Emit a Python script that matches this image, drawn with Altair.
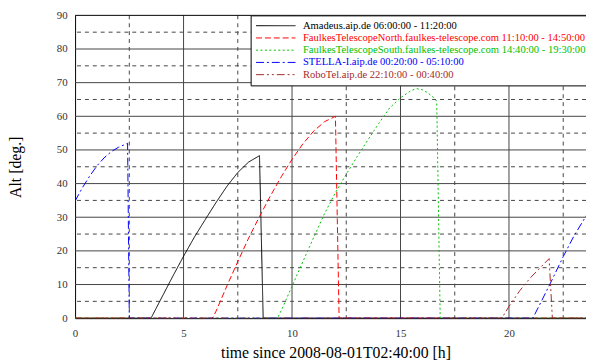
import altair as alt
import pandas as pd

# ---- series metadata ----
names = ["Amadeus.aip.de",
         "FaulkesTelescopeNorth.faulkes-telescope.com",
         "FaulkesTelescopeSouth.faulkes-telescope.com",
         "STELLA-I.aip.de",
         "RoboTel.aip.de"]
windows = ["06:00:00 - 11:20:00",
           "11:10:00 - 14:50:00",
           "14:40:00 - 19:30:00",
           "00:20:00 - 05:10:00",
           "22:10:00 - 00:40:00"]
colors = ["#000000", "#ff0000", "#00c000", "#0000ff", "#a52a2a"]
dashes = [[1, 0], [6, 3], [2, 2.5], [8, 3, 2, 3], [8, 3, 2, 3, 2, 3]]

# ---- data (hours since 2008-08-01T02:40:00, altitude in deg) ----
hours_amadeus = [0, 3.5, 4.0, 4.5, 5.0, 5.5, 6.0, 6.5, 7.0, 7.5, 8.0, 8.5, 8.67, 24]
alt_amadeus = [0, 0, 6.2, 12.4, 18.4, 24.1, 29.3, 34.4, 39.2, 43.3, 46.4, 48.3, 0, 0]

hours_north = [0, 6.33, 6.5, 7.0, 7.5, 8.0, 8.5, 9.0, 9.5, 10.0, 10.5, 11.0, 11.5, 12.0, 12.17, 24]
alt_north = [0, 0, 2.1, 9.6, 16.8, 23.8, 30.2, 36.3, 42.0, 47.2, 51.8, 55.6, 58.4, 60.0, 0, 0]

hours_south = [0, 9.33, 9.5, 10.0, 10.5, 11.0, 11.5, 12.0, 12.5, 13.0, 13.5, 14.0, 14.5,
               15.0, 15.5, 15.75, 16.0, 16.25, 16.5, 16.67, 16.83, 24]
alt_south = [0, 0, 2.2, 9.5, 16.8, 24.0, 31.1, 37.3, 42.8, 48.0, 53.0, 57.9, 62.5,
             65.5, 67.7, 68.2, 67.9, 67.0, 65.7, 64.5, 0, 0]

hours_stella = [0, 0.33, 0.67, 1.0, 1.33, 1.67, 2.0, 2.33, 2.42, 2.5,
                21.1, 21.5, 22.0, 22.5, 23.0, 23.5, 24]
alt_stella = [34.8, 38.7, 42.2, 45.2, 47.6, 49.5, 50.8, 51.7, 52.0, 0,
              0, 5.1, 11.6, 18.3, 24.5, 29.8, 35.0]

hours_robotel = [0, 19.67, 20.0, 20.5, 21.0, 21.5, 21.85, 22.0, 24]
alt_robotel = [0, 0, 3.5, 8.2, 12.1, 15.4, 17.7, 0, 0]

# ---- grid / tick values ----
x_major = [0, 5, 10, 15, 20]
x_minor = [2.5, 7.5, 12.5, 17.5, 22.5]
y_major = [0, 10, 20, 30, 40, 50, 60, 70, 80, 90]
y_minor = [5, 15, 25, 35, 45, 55, 65, 75, 85]

labels = [f"{n} {w}" for n, w in zip(names, windows)]
series_hours = [hours_amadeus, hours_north, hours_south, hours_stella, hours_robotel]
series_alt = [alt_amadeus, alt_north, alt_south, alt_stella, alt_robotel]

rows = []
for lab, hs, als in zip(labels, series_hours, series_alt):
    for i, (h, a) in enumerate(zip(hs, als)):
        rows.append({"series": lab, "h": h, "alt": a, "i": i})
df = pd.DataFrame(rows)

FONT = "Liberation Serif"
GRID = "#444444"

x_scale = alt.Scale(domain=[0, 23.55], nice=False, zero=False)
y_scale = alt.Scale(domain=[0, 90], nice=False, zero=False)

x_axis = alt.Axis(values=x_major, format="d", title="time since 2008-08-01T02:40:00 [h]",
                  titleFont=FONT, titleFontSize=16, titleFontWeight="normal", titleColor="black",
                  titleX=264, titleY=40, titleBaseline="alphabetic", titleAlign="center",
                  labelFont=FONT, labelFontSize=11, labelColor="#333333", labelPadding=10,
                  labelFlush=False, labelOverlap=False, ticks=False, grid=False,
                  domainColor="black", domainWidth=1)
y_axis = alt.Axis(values=y_major, format="d", title="Alt [deg.]",
                  titleFont=FONT, titleFontSize=16, titleFontWeight="normal", titleColor="black",
                  titleX=-60, titleY=153.5, titleAngle=270, titleBaseline="middle", titleAlign="center",
                  labelFont=FONT, labelFontSize=11, labelColor="#333333", labelPadding=8,
                  labelFlush=False, labelOverlap=False, ticks=False, grid=False,
                  domainColor="black", domainWidth=1)

vmaj = alt.Chart(pd.DataFrame({"h": x_major[1:]})).mark_rule(color=GRID, strokeWidth=1).encode(
    x=alt.X("h:Q", scale=x_scale, axis=x_axis))
vmin = alt.Chart(pd.DataFrame({"h": x_minor})).mark_rule(color=GRID, strokeWidth=1, strokeDash=[4, 4]).encode(
    x=alt.X("h:Q", scale=x_scale, axis=x_axis))
hmaj = alt.Chart(pd.DataFrame({"alt": y_major[1:-1]})).mark_rule(color=GRID, strokeWidth=1).encode(
    y=alt.Y("alt:Q", scale=y_scale, axis=y_axis))
hmin = alt.Chart(pd.DataFrame({"alt": y_minor})).mark_rule(color=GRID, strokeWidth=1, strokeDash=[4, 4]).encode(
    y=alt.Y("alt:Q", scale=y_scale, axis=y_axis))
top = alt.Chart(pd.DataFrame({"alt": y_major[-1:]})).mark_rule(color="black", strokeWidth=1).encode(
    y=alt.Y("alt:Q", scale=y_scale, axis=y_axis))

legend = alt.Legend(orient="none", legendX=178, legendY=0, title=None, direction="vertical",
                    symbolType="stroke", symbolSize=1600, symbolStrokeWidth=1,
                    labelFont=FONT, labelFontSize=10.7, labelOffset=7, labelLimit=600,
                    clipHeight=11, padding=5, rowPadding=0.4, strokeColor="black", fillColor="white",
                    cornerRadius=0, offset=0,
                    labelColor={"expr": "scale('color', datum.value)"})

lines = alt.Chart(df).mark_line(strokeWidth=1, clip=True).encode(
    x=alt.X("h:Q", scale=x_scale, axis=x_axis),
    y=alt.Y("alt:Q", scale=y_scale, axis=y_axis),
    color=alt.Color("series:N", scale=alt.Scale(domain=labels, range=colors), legend=legend),
    strokeDash=alt.StrokeDash("series:N", scale=alt.Scale(domain=labels, range=dashes), legend=legend),
    order=alt.Order("i:Q"),
)

chart = alt.layer(hmin, vmin, hmaj, vmaj, top, lines).properties(
    width=518, height=307,
    autosize=alt.AutoSizeParams(type="none"),
    padding={"left": 68, "top": 5, "right": 0, "bottom": 44},
    background="white",
).configure_view(stroke=None)

chart.save("out.html", embed_options={"renderer": "svg", "actions": False})
